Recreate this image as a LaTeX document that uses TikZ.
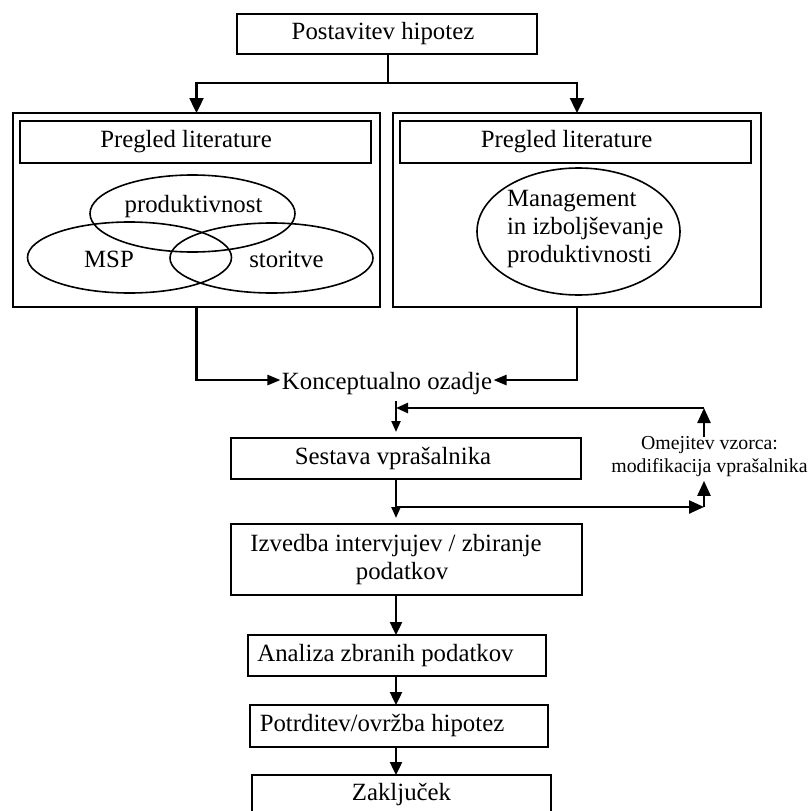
\documentclass[tikz,border=0pt]{standalone}
\usepackage{fontspec}
\setmainfont{Liberation Serif}
\usetikzlibrary{arrows.meta,shapes.geometric}

\begin{document}
\begin{tikzpicture}[x=1pt,y=-1pt,
  every node/.style={inner sep=0pt, outer sep=0pt},
  txt/.style={font=\fontsize{24.8}{28}\selectfont},
  small/.style={font=\fontsize{19.8}{23}\selectfont},
  frame/.style={draw, line width=1.8pt},
  box/.style={frame, txt},
  blob/.style={draw, ellipse, line width=1.6pt},
  wire/.style={line width=2.4pt},
  conn/.style={wire, -{Triangle[length=13pt,width=12pt]}},
  connS/.style={line width=2.2pt, -{Triangle[length=11pt,width=9pt]}}]

\clip (0,0) rectangle (809,811);
\fill[white] (0,0) rectangle (809,811);

% top of the flow
\node[box, minimum width=300pt, minimum height=40pt] (top) at (387,34) {Postavitev hipotez\kern8pt};

% two literature review panels
\node[frame, minimum width=367pt, minimum height=194pt] (outerL) at (196.5,210) {};
\node[frame, minimum width=368pt, minimum height=194pt] (outerR) at (577,210) {};
\node[box, minimum width=351pt, minimum height=42pt] (headL) at (195.5,142) {Pregled literature\kern19pt};
\node[box, minimum width=351pt, minimum height=42pt] (headR) at (575.5,142) {Pregled literature\kern18pt};

% overlapping topic areas
\node[blob, minimum width=205pt, minimum height=77pt] (prod) at (192.5,213.5) {};
\node[blob, minimum width=204pt, minimum height=71pt] (msp) at (129.5,257.5) {};
\node[blob, minimum width=203pt, minimum height=70pt] (stor) at (271.5,258) {};
\node[txt, anchor=base] (prodT) at (193.5,212) {produktivnost};
\node[txt, anchor=base] (mspT) at (109,267) {MSP};
\node[txt, anchor=base] (storT) at (286.5,267) {storitve};

\node[blob, minimum width=203pt, minimum height=127pt] (mgmt) at (578.5,231.5) {};
\node[txt, align=left, anchor=north west] (mgmtT) at (507,190.6) {Management\\in izboljševanje\\produktivnosti};

% conceptual background
\node[txt, inner xsep=1.5pt, anchor=base] (concept) at (387,389) {Konceptualno ozadje};

% research steps
\node[box, minimum width=350pt, minimum height=41pt] (sestava) at (406,458.5) {Sestava vprašalnika\kern26pt};
\node[box, align=center, minimum width=351pt, minimum height=71pt] (izvedba) at (406.5,559.5) {Izvedba intervjujev / zbiranje\kern21pt\\podatkov\kern9pt};
\node[box, minimum width=298pt, minimum height=41pt] (analiza) at (397,655.5) {Analiza zbranih podatkov\kern23pt};
\node[box, minimum width=298pt, minimum height=42pt] (potrditev) at (399,726) {Potrditev/ovržba hipotez\kern34pt};
\node[box, minimum width=299pt, minimum height=40pt] (zakljucek) at (401.5,795) {Zaključek};

% feedback note
\node[small, align=center, anchor=north] (limit) at (709.5,436.5) {Omejitev vzorca:\\modifikacija vprašalnika};

% routing points
\coordinate (split) at (388,83);
\coordinate (spine) at (396,0);
\coordinate (fbTop) at (704,408);
\coordinate (fbBot) at (704,507);

% connectors
\draw[wire] (top.south -| split) -- (split);
\draw[conn, -{Triangle[length=15pt,width=14pt]}] (split) -| (outerL.north);
\draw[conn, -{Triangle[length=15pt,width=14pt]}] (split) -| (outerR.north);
\draw[conn, -{Triangle[length=13pt,width=10pt]}] (outerL.south) |- ([yshift=3pt]concept.west);
\draw[conn, -{Triangle[length=13pt,width=10pt]}] (outerR.south) |- ([yshift=3pt]concept.east);

\draw[connS, shorten <=7pt, shorten >=6pt] (concept.south -| spine) -- (sestava.north -| spine);
\draw[conn, -{Triangle[length=15pt,width=13pt]}] (limit.north -| fbTop) -- (fbTop);
\draw[conn, -{Triangle[length=12pt,width=10pt]}] (fbTop) -- (fbTop -| spine);

\draw[connS, shorten >=6pt] (sestava.south -| spine) -- (izvedba.north -| spine);
\draw[conn, -{Triangle[length=15pt,width=13pt]}] (fbBot -| spine) -- (fbBot);
\draw[conn, -{Triangle[length=15pt,width=13pt]}, shorten >=4pt] (fbBot) -- (limit.south -| fbBot);

\draw[conn] (izvedba.south -| spine) -- (analiza.north -| spine);
\draw[conn] (analiza.south -| spine) -- (potrditev.north -| spine);
\draw[conn] (potrditev.south -| spine) -- (zakljucek.north -| spine);
\end{tikzpicture}
\end{document}
